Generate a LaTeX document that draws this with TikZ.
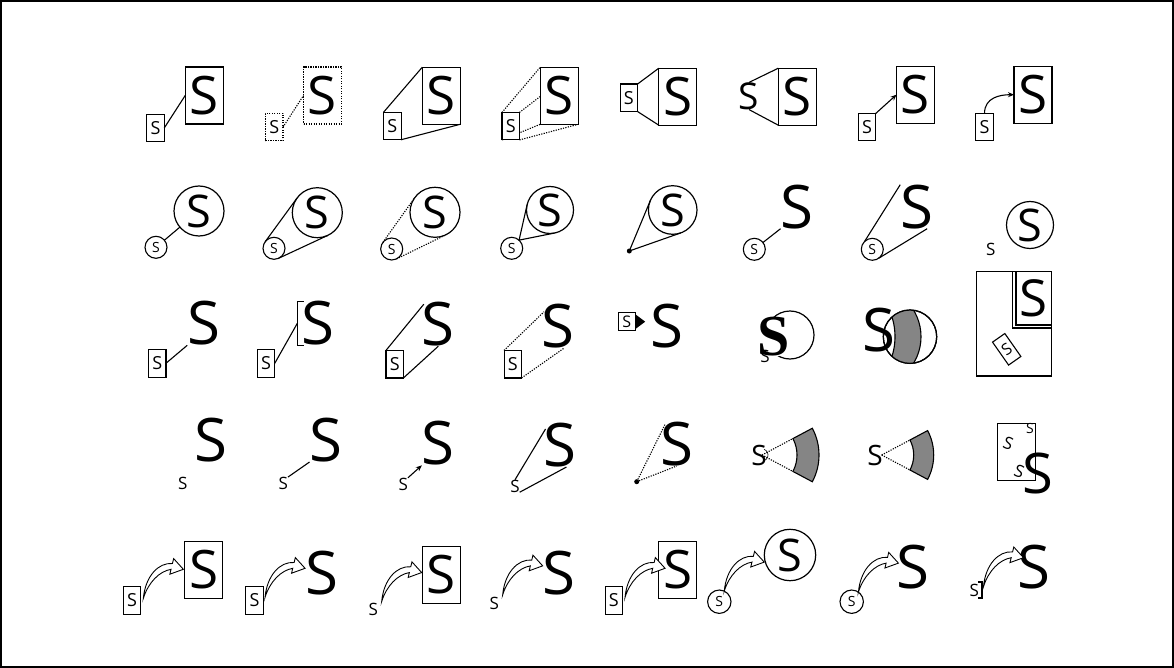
\documentclass[tikz,border=0pt]{standalone}
\usepackage{fontspec}
\setmainfont{Open Sans}
\newfontfamily\serifbold{Liberation Serif}
\usetikzlibrary{calc,arrows.meta}
\pgfdeclarelayer{bg}
\pgfsetlayers{bg,main}
\tikzset{
 ln/.style={line width=1.1pt},
 dotl/.style={line width=1.1pt, dash pattern=on 1.2pt off 1.3pt},
 bigbox/.style={draw, line width=1.2pt, fill=white, minimum width=38pt, minimum height=57pt, inner sep=0pt, outer sep=0pt, font=\fontsize{53}{53}\selectfont},
 smallbox/.style={draw, line width=1.1pt, fill=white, minimum width=17.5pt, minimum height=27.5pt, inner sep=0pt, outer sep=0pt, font=\fontsize{18}{18}\selectfont},
 bigS/.style={inner sep=0pt, outer sep=0pt, font=\fontsize{60}{60}\selectfont},
 midS/.style={inner sep=0pt, outer sep=0pt, font=\fontsize{37}{37}\selectfont},
 sectS/.style={inner sep=0pt, outer sep=0pt, font=\fontsize{28}{28}\selectfont},
 smallS/.style={inner sep=0pt, outer sep=0pt, font=\fontsize{17}{17}\selectfont},
 bigcirc/.style={draw, circle, line width=1.2pt, fill=white, minimum size=50pt, inner sep=0pt, outer sep=0pt, font=\fontsize{45}{45}\selectfont},
 smallcirc/.style={draw, circle, line width=1.1pt, fill=white, minimum size=22pt, inner sep=0pt, outer sep=0pt, font=\fontsize{14}{14}\selectfont},
 blackdot/.style={circle, fill=black, minimum size=5pt, inner sep=0pt},
 band/.style={fill=black!48},
 arr/.style={ln, -{Stealth[length=6pt,width=5pt]}},
 fatarr/.pic={\draw[line width=0.9pt, fill=white, line join=miter]
   (0,0) .. controls (2,-22) and (15,-36) .. (29.1,-34.8) -- (30.3,-39.7) -- (40,-29)
   -- (26.5,-24.1) -- (27.7,-29) .. controls (16,-27) and (5,-16) .. (0,0) -- cycle;},
}
\begin{document}
\begin{tikzpicture}[x=1pt,y=-1pt]
\useasboundingbox (0,0) rectangle (1174,668);
\draw[line width=2pt] (1,1) rectangle (1173,667);

% ---------- Row 1 ----------
\node[smallbox] (a11) at (155.5,128) {S};
\node[bigbox] (b11) at (204.2,95.5) {S};
\draw[ln] (a11.east) -- (b11.west);

\node[smallbox, dash pattern=on 1.2pt off 1.3pt] (a12) at (274.2,127.2) {S};
\node[bigbox, dash pattern=on 1.2pt off 1.3pt] (b12) at (322.5,95.5) {S};
\draw[dotl] (a12.east) -- (b12.west);

\node[smallbox] (a13) at (392.3,126) {S};
\node[bigbox] (b13) at (441.2,95.8) {S};
\draw[ln] (a13.north west) -- (b13.north west);
\draw[ln] (a13.south east) -- (b13.south east);

\node[smallbox] (a14) at (510.7,126.2) {S};
\node[bigbox] (b14) at (559.2,95.8) {S};
\begin{pgfonlayer}{bg}
\draw[dotl] (a14.north west) -- (b14.north west);
\draw[dotl] (a14.north east) -- (b14.north east);
\draw[dotl] (a14.south west) -- (b14.south west);
\draw[dotl] (a14.south east) -- (b14.south east);
\end{pgfonlayer}

\node[smallbox] (a15) at (628.8,97.8) {S};
\node[bigbox] (b15) at (677.8,96.7) {S};
\draw[ln] (a15.north east) -- (b15.north west);
\draw[ln] (a15.south east) -- (b15.south west);

\node[midS] (s16) at (749,96) {S};
\node[bigbox] (b16) at (797.3,96.7) {S};
\draw[ln] (s16.north) -- (b16.north west);
\draw[ln] (s16.south) -- (b16.south west);

\node[smallbox] (a17) at (867,127.2) {S};
\node[bigbox] (b17) at (915.5,94.7) {S};
\draw[arr] (a17.north east) -- (b17.west);

\node[smallbox] (a18) at (984.5,127.2) {S};
\node[bigbox] (b18) at (1033,94.7) {S};
\draw[arr] (a18.north) .. controls ($(a18.north)+(0,-16)$) and ($(b18.west)+(-14,0)$) .. (b18.west);

% ---------- Row 2 ----------
\node[smallcirc] (c21) at (156,247.3) {S};
\node[bigcirc] (d21) at (199,211) {S};
\draw[ln] (c21) -- (d21);

\node[smallcirc] (c22) at (274,248.3) {S};
\node[bigcirc] (d22) at (317.3,212.7) {S};
\draw[ln] (c22.-65.4) -- (d22.-65.4);
\draw[ln] (c22.144.2) -- (d22.144.2);

\node[smallcirc] (c23) at (391.7,249) {S};
\node[bigcirc] (d23) at (435,212.3) {S};
\draw[dotl] (c23.-64.3) -- (d23.-64.3);
\draw[dotl] (c23.144.9) -- (d23.144.9);

\node[smallcirc] (c24) at (511.7,248.3) {S};
\node[bigcirc, minimum size=47pt] (d24) at (550,210) {S};
\coordinate (p24) at (c24.48);
\draw[ln] (tangent cs:node=d24,point={(p24)},solution=1) -- (p24) -- (tangent cs:node=d24,point={(p24)},solution=2);

\node[blackdot] (p25) at (629.3,251) {};
\node[bigcirc, minimum size=48.6pt] (d25) at (672.7,210) {S};
\draw[ln] (tangent cs:node=d25,point={(p25.center)},solution=1) -- (p25.center) -- (tangent cs:node=d25,point={(p25.center)},solution=2);

\node[smallcirc] (c26) at (754.3,249.3) {S};
\node[bigS] (s26) at (797,206.7) {S};
\draw[ln] (c26) -- (s26.south west);

\node[smallcirc] (c27) at (872.3,249.3) {S};
\node[bigS] (s27) at (916.7,206.7) {S};
\draw[ln] (c27.135) -- (s27.north west);
\draw[ln] (c27.-55) -- ([xshift=-6pt]s27.south east);

\node[smallS] (t28) at (990.7,249.3) {S};
\node[bigcirc, minimum size=47pt] (d28) at (1030,225) {S};

% ---------- Row 3 ----------
\node[smallbox] (a31) at (157.2,363.3) {S};
\node[bigS] (s31) at (203.7,323.3) {S};
\draw[ln] (a31.east) -- (s31.south west);

\node[smallbox] (a32) at (266,363.3) {S};
\node[bigS] (s32) at (318.3,323.3) {S};
\draw[ln] ([xshift=2pt]s32.north west) -| ([xshift=-4.5pt]s32.west) |- ([xshift=2pt]s32.south west);
\draw[ln] (a32.east) -- ([xshift=-4.5pt]s32.west);

\node[smallbox] (a33) at (394.7,364.2) {S};
\node[bigS] (s33) at (438.3,324.2) {S};
\draw[ln] (a33.north west) -- ([shift={(2,2)}]s33.north west);
\draw[ln] (a33.south east) -- (s33.south);

\node[smallbox] (a34) at (512.8,364.2) {S};
\node[bigS] (s34) at (557.5,325.8) {S};
\draw[dotl] (a34.north west) -- ([shift={(3,8)}]s34.north west);
\draw[dotl] (a34.south east) -- ([shift={(7,0)}]s34.south);

\node[smallbox, minimum width=17pt, minimum height=18pt, font=\fontsize{16}{16}\selectfont] (a35) at (626.7,321.7) {S};
\node[bigS] (s35) at (666.7,325.7) {S};
\fill ([yshift=7.5pt]a35.east) -- ([xshift=10pt]a35.east) -- ([yshift=-7.5pt]a35.east) -- cycle;

\node[draw, circle, line width=1.2pt, minimum size=48pt, inner sep=0pt] (d36) at (790,335) {};
\node[inner sep=0pt, fill=white, font=\serifbold\bfseries\fontsize{58}{58}\selectfont] (s36) at (774,336.7) {S};
\node[smallS] (t36) at (765,356) {S};

\node[draw, circle, line width=1.2pt, minimum size=53.4pt, inner sep=0pt] (d37) at (910,336.7) {};
\begin{scope}[shift={(d37.center)}]
  \clip (0,0) circle[radius=26.7];
  \fill[band, even odd rule] (-40,0) circle[radius=51] (-80,0) circle[radius=65];
  \draw[ln] (-40,0) circle[radius=51] (-80,0) circle[radius=65];
\end{scope}
\draw[line width=1.2pt] (d37.center) circle[radius=26.7];
\node[bigS] (s37) at (879.3,330.3) {S};

\node[draw, line width=1.1pt, minimum width=75pt, minimum height=104.3pt, inner sep=0pt] (f38) at (1014.2,323.8) {};
\node[draw, line width=1.2pt, fill=white, minimum width=35.7pt, minimum height=53.3pt, inner sep=0pt, font=\fontsize{51}{51}\selectfont] (b38) at (1033.8,298.4) {S};
\draw[line width=1.1pt] ([xshift=-2.7pt]b38.north west) |- ([yshift=-2.3pt]b38.south east);
\node[smallbox, rotate=35, minimum width=15pt, minimum height=28pt, font=\fontsize{16}{16}\selectfont] (a38) at (1006.7,349.3) {S};

% ---------- Row 4 ----------
\node[bigS] (s41) at (210.8,440) {S};
\node[smallS] (t41) at (182.7,483.3) {S};

\node[bigS] (s42) at (326,440) {S};
\node[smallS] (t42) at (283.3,483.3) {S};
\draw[ln] (t42.north east) -- (s42.south west);

\node[bigS] (s43) at (438.3,443.3) {S};
\node[smallS] (t43) at (403.3,484) {S};
\draw[arr] (t43.north east) -- (s43.south west);

\node[bigS] (s44) at (560,445) {S};
\node[smallS] (t44) at (515,486) {S};
\draw[ln] (t44.north) -- ([shift={(2,6)}]s44.north west);
\draw[ln] (t44.south east) -- ([shift={(-10,0)}]s44.south east);

\node[blackdot] (p45) at (636.7,481.7) {};
\node[bigS] (s45) at (676.7,444) {S};
\draw[dotl] (p45.center) -- ([shift={(5,2)}]s45.north west);
\draw[dotl] (p45.center) -- (s45.south);

\node[sectS] (t46) at (759,455) {S};
\coordinate (o46) at (762,455);
\begin{scope}[shift={(o46)}]
  \filldraw[band, draw=black, line width=1.1pt] (-28:35) -- (-28:57) arc[start angle=-28, end angle=28, radius=57] -- (28:35) arc[start angle=28, end angle=-28, radius=35] -- cycle;
  \draw[dotl] (0,0) -- (-28:35);
  \draw[dotl] (0,0) -- (28:35);
  \draw[line width=0.6pt] (-70:6) arc[start angle=-70, end angle=70, radius=6];
\end{scope}

\node[sectS] (t47) at (875,455) {S};
\coordinate (o47) at (881.7,455);
\begin{scope}[shift={(o47)}]
  \filldraw[band, draw=black, line width=1.1pt] (-28:32) -- (-28:52) arc[start angle=-28, end angle=28, radius=52] -- (28:32) arc[start angle=28, end angle=-28, radius=32] -- cycle;
  \draw[dotl] (0,0) -- (-28:32);
  \draw[dotl] (0,0) -- (28:32);
\end{scope}

\node[draw, line width=1.1pt, minimum width=37.7pt, minimum height=57.4pt, inner sep=0pt] (f48) at (1016.2,452) {};
\node[smallS, rotate=-20] (u48) at (1008.3,443.3) {S};
\node[inner sep=0pt, font=\fontsize{14}{14}\selectfont] (v48) at (1030,428.3) {S};
\node[smallS, rotate=-20] (w48) at (1019.3,471.7) {S};
\node[bigS, font=\fontsize{56}{56}\selectfont] (s48) at (1037.5,473.3) {S};

% ---------- Row 5 ----------
\node[smallbox] (a51) at (132,600.5) {S};
\node[bigbox] (b51) at (203.8,570) {S};
\pic at ([shift={(2.6,-2.2)}]a51.east) {fatarr};

\node[smallbox] (a52) at (254.5,600.5) {S};
\node[bigS] (s52) at (321.7,573.3) {S};
\pic at ([shift={(1.8,-3.2)}]a52.east) {fatarr};

\node[smallS] (t53) at (373.3,609.3) {S};
\node[bigbox] (b53) at (441.2,574.7) {S};
\pic at ([shift={(3.7,-1.5)}]t53.north east) {fatarr};

\node[smallS] (t54) at (494.3,603.3) {S};
\node[bigS] (s54) at (559,573.3) {S};
\pic at ([shift={(3.7,-2.2)}]t54.north east) {fatarr};

\node[smallbox] (a55) at (613.8,600.5) {S};
\node[bigbox] (b55) at (677.8,570) {S};
\pic at ([shift={(2.5,-3.2)}]a55.east) {fatarr};

\node[smallcirc, minimum size=23.4pt] (c56) at (719.3,601.7) {S};
\node[bigcirc, minimum size=51.4pt] (d56) at (790,555) {S};
\pic at (c56.65) {fatarr};

\node[smallcirc, minimum size=23.4pt] (c57) at (851.7,601.7) {S};
\node[bigS] (s57) at (913.3,566.7) {S};
\pic at (c57.55) {fatarr};

\node[smallS] (t58) at (974.3,590) {S};
\draw[ln] ([shift={(-1,-8)}]t58.east) -- ([shift={(3,-8)}]t58.east) -- ([shift={(3,8)}]t58.east) -- ([shift={(-1,8)}]t58.east);
\node[bigS] (s58) at (1034.2,566.7) {S};
\pic at ([shift={(4.5,-3.3)}]t58.east) {fatarr};
\end{tikzpicture}
\end{document}
